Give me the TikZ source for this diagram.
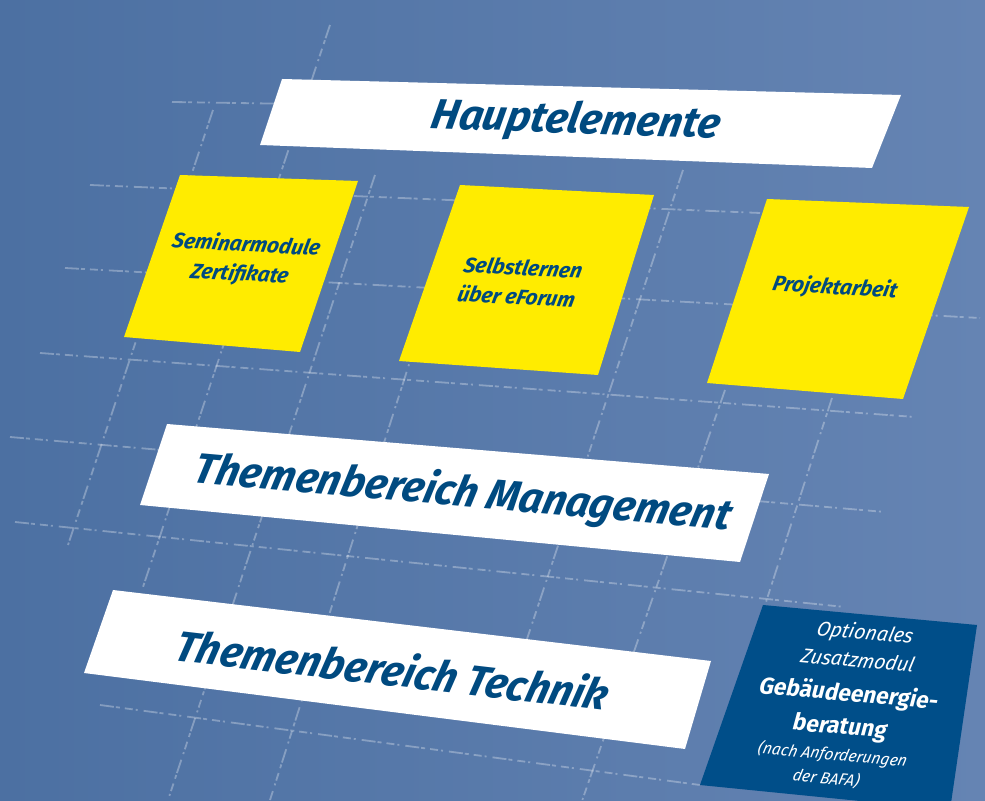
\documentclass[tikz,border=0pt]{standalone}
\usepackage{fontspec}
\newfontfamily\firamedium{Fira Sans}
\usepackage{tikz}
\usetikzlibrary{calc}
\definecolor{boardleft}{RGB}{76,112,162}
\definecolor{boardright}{RGB}{101,132,179}
\definecolor{cardyellow}{RGB}{255,236,0}
\definecolor{textblue}{RGB}{0,74,128}
\definecolor{infoblue}{RGB}{0,78,137}
\tikzstyle{gridline} = [draw=white, draw opacity=0.3, line width=0.9pt, dash pattern=on 7pt off 1pt on 2pt off 2.5pt on 4pt off 1.5pt on 1pt off 3pt]
\tikzstyle{bar} = [fill=white]
\tikzstyle{card} = [fill=cardyellow]
\tikzstyle{infobox} = [fill=infoblue]
\tikzstyle{bartext} = [text=textblue, font=\firamedium\bfseries\itshape\fontsize{21}{26}\selectfont, xslant=0.18, inner sep=0pt]
\tikzstyle{cardtext} = [text=textblue, font=\firamedium\bfseries\itshape\fontsize{10.5}{14.5}\selectfont, align=center, xslant=0.18, inner sep=0pt]
\tikzstyle{infotext} = [text=white, font=\firamedium\fontsize{10}{14}\selectfont, align=center, xslant=0.18, inner sep=0pt]

\begin{document}
\begin{tikzpicture}[x=0.5pt, y=-0.5pt]

\useasboundingbox (0,0) rectangle (985,801);
\clip (0,0) rectangle (985,801);
\shade[left color=boardleft, right color=boardright] (0,0) rectangle (985,801);

% chalk grid
\draw[gridline] (172,102) -- (300,104);
\draw[gridline] (90,185) -- (760,213);
\draw[gridline] (65,268) -- (980,318);
\draw[gridline] (40,353) -- (915,417);
\draw[gridline] (10,437) -- (885,512);
\draw[gridline] (15,522) -- (845,607);
\draw[gridline] (100,705) -- (700,785);
\draw[gridline] (330,25) -- (143,587);
\draw[gridline] (213,110) -- (68,545);
\draw[gridline] (375,175) -- (168,800);
\draw[gridline] (420,330) -- (270,800);
\draw[gridline] (683,170) -- (525,645);
\draw[gridline] (725,390) -- (582,801);
\draw[gridline] (832,398) -- (765,605);

% bars and cards
\fill[bar] (282,79) -- (901,95) -- (872,168) -- (260,145) -- cycle;
\fill[card] (180,175) -- (358,181) -- (300,352) -- (124,337) -- cycle;
\fill[card] (460,185) -- (654,195) -- (598,375) -- (399,361) -- cycle;
\fill[card] (767,199) -- (969,207) -- (903,399) -- (707,383) -- cycle;
\fill[bar] (167,424) -- (769,474) -- (740,562) -- (140,505) -- cycle;
\fill[bar] (113,590) -- (711,661) -- (685,749) -- (84,673) -- cycle;
\fill[infobox] (763,605) -- (977,625) -- (950,810) -- (700,785) -- cycle;

\node[bartext, rotate=-2] (haupt) at (576,122) {Hauptelemente};
\node[cardtext, rotate=-3] (seminar) at (243,260) {Seminarmodule\\Zertifikate};
\node[cardtext, rotate=-3] (selbst) at (520,282) {Selbstlernen\\über eForum};
\node[cardtext, rotate=-3] (projekt) at (835,288) {Projektarbeit};
\node[bartext, rotate=-5] (mgmt) at (463,494) {Themenbereich Management};
\node[bartext, rotate=-6.5] (technik) at (393,669) {Themenbereich Technik};
\node[infotext, rotate=-5] (zusatz) at (846,705) {{\itshape Optionales}\\{\itshape Zusatzmodul}\\[3pt]
  {\bfseries\fontsize{11.5}{14}\selectfont Gebäudeenergie-}\\[2.5pt]
  {\bfseries\fontsize{11.5}{14}\selectfont beratung}\\[-1pt]
  {\itshape\fontsize{8}{10}\selectfont (nach Anforderungen}\\[-2pt]
  {\itshape\fontsize{8}{10}\selectfont der BAFA)}};

\end{tikzpicture}
\end{document}
